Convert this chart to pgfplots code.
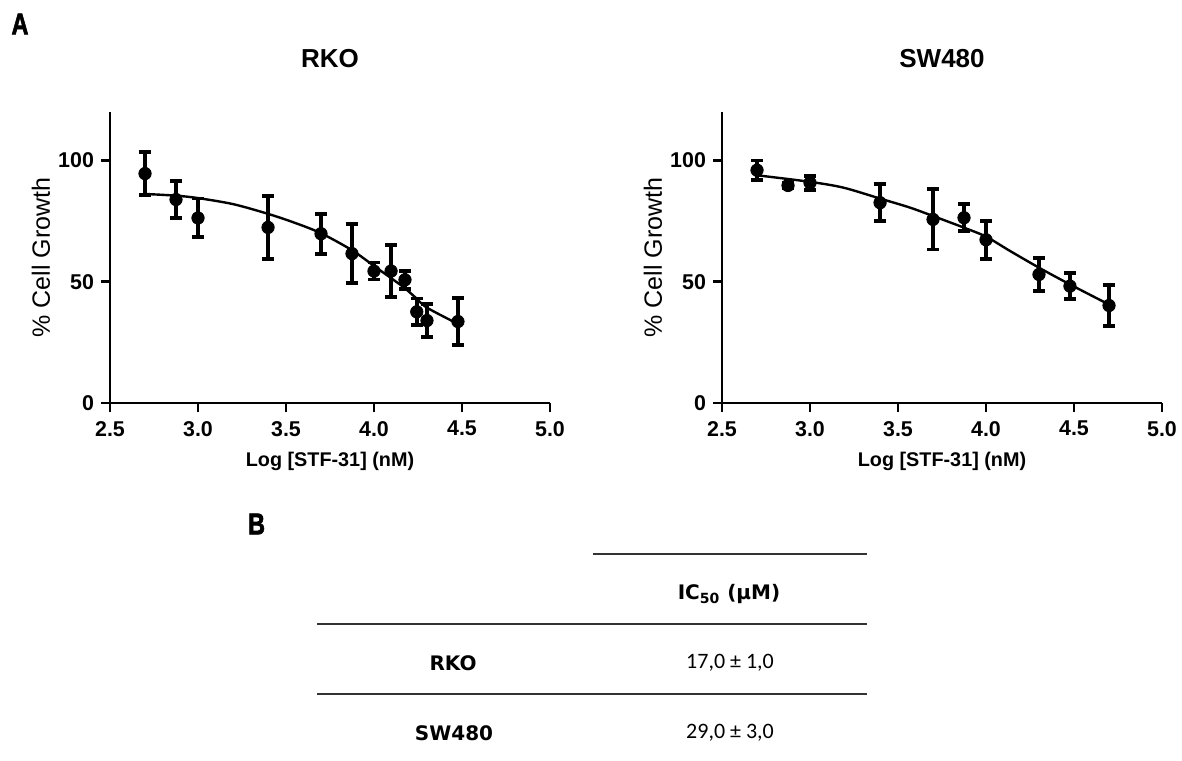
\documentclass[border=0pt]{standalone}
\usepackage{fontspec}
\setmainfont{Liberation Sans}
\newfontfamily\tabreg{Carlito}
\newfontfamily\tabbold{DejaVu Sans}
\newfontfamily\heavyfont{Liberation Sans Bold}[FakeBold=2.5]
\usepackage{graphicx}
\usepackage{pgfplots}
\pgfplotsset{compat=1.18}
\usepackage{pgfplotstable}

\pgfplotstableread{
x y e
2.699 94.6 8.9
2.875 83.9 7.7
3.000 76.3 8.0
3.398 72.4 13.1
3.699 69.8 8.3
3.875 61.6 12.1
4.000 54.4 3.5
4.097 54.4 10.6
4.176 50.8 3.7
4.243 37.6 5.5
4.301 34.0 6.8
4.477 33.6 9.6
}\rkodata

\pgfplotstableread{
x y
2.699 86.2
2.875 85.5
3.000 84.5
3.200 82.0
3.398 78.0
3.550 74.3
3.699 70.0
3.875 63.0
4.000 56.5
4.097 51.5
4.176 47.3
4.243 43.0
4.301 39.3
4.477 32.6
}\rkofit

\pgfplotstableread{
x y e
2.699 96.0 4.0
2.875 89.7 1.0
3.000 90.8 2.9
3.398 82.6 7.6
3.699 75.7 12.4
3.875 76.4 5.6
4.000 67.3 7.9
4.301 53.0 6.7
4.477 48.2 5.4
4.699 40.2 8.5
}\swdata

\pgfplotstableread{
x y
2.699 93.9
3.000 91.2
3.190 88.8
3.398 84.3
3.567 80.6
3.699 77.1
3.875 72.3
4.000 68.6
4.134 62.8
4.301 55.8
4.477 48.9
4.699 40.6
}\swfit

\pgfplotsset{
  myax/.style={
    width=220pt, height=145.5pt, scale only axis,
    xmin=2.5, xmax=5.0, ymin=0, ymax=120,
    axis x line*=bottom, axis y line*=left,
    axis line style={line width=1.3pt, -},
    xtick={2.5,3.0,3.5,4.0,4.5,5.0}, ytick={0,50,100},
    tick align=outside, major tick length=4.5pt,
    tick style={line width=1.3pt, black},
    /pgf/number format/assume math mode=true,
    ticklabel style={font=\fontsize{10.7}{12}\selectfont\bfseries},
    xticklabel style={yshift=-1pt, /pgf/number format/.cd, fixed, fixed zerofill, precision=1},
    xlabel={Log [STF-31] (nM)},
    xlabel style={font=\fontsize{9.9}{12}\selectfont\bfseries, at={(axis description cs:0.5,-0.2)}, anchor=center},
    ylabel={\% Cell Growth},
    ylabel style={font=\fontsize{12.5}{14}\selectfont, at={(axis description cs:-0.157,0.5)}, anchor=center},
    title style={font=\fontsize{13}{15}\selectfont\bfseries, at={(axis description cs:0.5,1.141)}, anchor=center},
    clip=false,
  },
  errpts/.style={
    only marks, mark=*, black, mark size=3.1pt,
    error bars/.cd, y dir=both, y explicit,
    error bar style={line width=1.9pt, black},
    error mark options={rotate=90, mark size=2.9pt, line width=1.9pt, black},
  },
  fitline/.style={no marks, black, line width=1.2pt, smooth},
}

\begin{document}
\begin{tikzpicture}
\path[use as bounding box] (0,0) rectangle (591pt,380pt);

\node[font=\heavyfont\fontsize{15}{17}\selectfont] at (10pt,368pt) {\scalebox{0.78}[1]{A}};
\node[font=\heavyfont\fontsize{15}{17}\selectfont] at (128.3pt,118pt) {\scalebox{0.78}[1]{B}};

\begin{axis}[myax, at={(55pt,178.5pt)}, anchor=south west, title={RKO}]
\addplot[fitline] table[x=x,y=y] {\rkofit};
\addplot[errpts] table[x=x,y=y,y error=e] {\rkodata};
\end{axis}

\begin{axis}[myax, at={(361pt,178.5pt)}, anchor=south west, title={SW480}]
\addplot[fitline] table[x=x,y=y] {\swfit};
\addplot[errpts] table[x=x,y=y,y error=e] {\swdata};
\end{axis}

% table B
\draw[line width=1pt, black!80] (296.5pt,103pt) -- (433.5pt,103pt);
\draw[line width=1pt, black!80] (158.5pt,68pt) -- (433.5pt,68pt);
\draw[line width=1pt, black!80] (158.5pt,33pt) -- (433.5pt,33pt);
\node[font=\tabbold\fontsize{10}{12}\selectfont\bfseries] at (364.5pt,83pt) {IC\textsubscript{50} (µM)};
\node[font=\tabbold\fontsize{10}{12}\selectfont\bfseries] at (226.5pt,48.5pt) {RKO};
\node[font=\tabbold\fontsize{10}{12}\selectfont\bfseries] at (227pt,13.5pt) {SW480};
\node[font=\tabreg\fontsize{11}{13}\selectfont] at (365pt,48.5pt) {17,0 ± 1,0};
\node[font=\tabreg\fontsize{11}{13}\selectfont] at (365pt,13.5pt) {29,0 ± 3,0};
\end{tikzpicture}
\end{document}
